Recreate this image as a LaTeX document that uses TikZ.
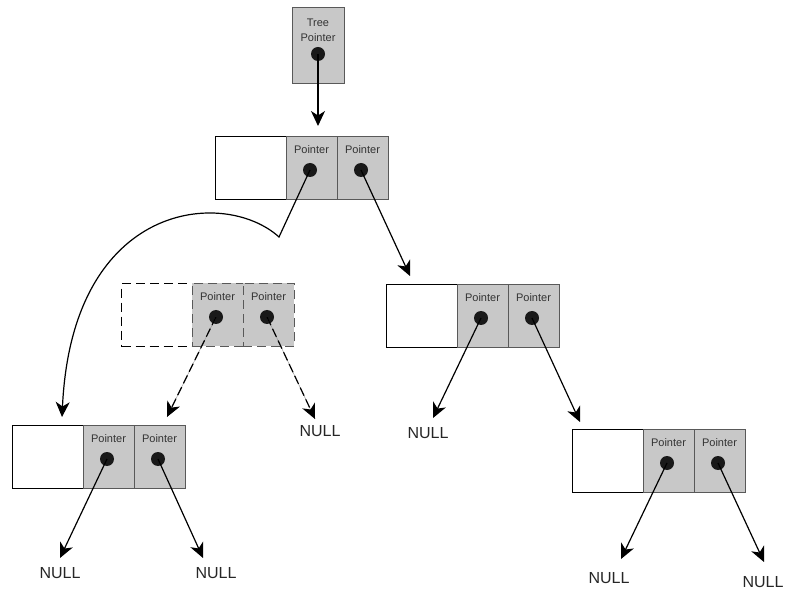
\documentclass[tikz,border=0pt]{standalone}
\usepackage{fontspec}
\setmainfont{Liberation Sans}
\usetikzlibrary{arrows.meta}
\definecolor{cellgray}{RGB}{200,200,200}
\tikzset{
  whitecell/.style={draw=black, line width=1.4pt, fill=white, minimum width=71pt, minimum height=63pt, anchor=north west, inner sep=0pt},
  ptrcell/.style={draw=black!65, line width=0.6pt, fill=cellgray, minimum width=51pt, minimum height=63pt, anchor=north west, inner sep=0pt},
  ptrlabel/.style={font=\fontsize{11}{13}\selectfont, text=black!80, inner sep=0pt},
  ptrdot/.style={circle, fill=black!90, minimum size=14pt, inner sep=0pt},
  link/.style={line width=1.2pt, -{Stealth[length=15pt,width=14pt,inset=4.5pt]}},
  dashlink/.style={link, dash pattern=on 9pt off 4pt},
  guideline/.style={draw=black!40, line width=0.5pt},
  nulltext/.style={font=\fontsize{16}{18}\selectfont, text=black!85, inner sep=0pt},
  dashedrec/.style={dash pattern=on 9pt off 5pt}
}
\newcommand\recnode[4]{%
  \node[whitecell,#4] (#1w) at (#2,#3) {};
  \node[ptrcell,#4] (#1a) at ({#2+71},#3) {};
  \node[ptrcell,#4] (#1b) at ({#2+122},#3) {};
  \node[ptrlabel] (#1la) at ({#2+96.5},{#3+14}) {Pointer};
  \node[ptrlabel] (#1lb) at ({#2+147.5},{#3+14}) {Pointer};
  \node[ptrdot] (#1da) at ({#2+95},{#3+34}) {};
  \node[ptrdot] (#1db) at ({#2+146},{#3+34}) {};
}
\begin{document}
\begin{tikzpicture}[x=1pt,y=-1pt]
\useasboundingbox (0,0) rectangle (787,593);

% tree pointer
\node[ptrcell, minimum width=52pt, minimum height=76pt] (tp) at (292,7) {};
\node[ptrlabel] (tpl1) at (318,23) {Tree};
\node[ptrlabel] (tpl2) at (318,38) {Pointer};
\node[ptrdot] (tpd) at (318,54) {};

% records
\recnode{root}{215}{136}{}
\recnode{dsh}{121}{283}{dashedrec}
\recnode{mr}{386}{284}{}
\recnode{bl}{12}{425}{}
\recnode{br}{572}{429}{}

% end points
\coordinate (tpend) at (318,126);
\coordinate (bend) at (279,237);
\coordinate (cend) at (62,417);
\coordinate (rbend) at (410,276);
\coordinate (mraend) at (433,418);
\coordinate (mrbend) at (580,422);
\coordinate (dsaend) at (167,417);
\coordinate (dsbend) at (315,419);
\coordinate (blaend) at (60,558);
\coordinate (blbend) at (203,558);
\coordinate (braend) at (621,559);
\coordinate (brbend) at (764,562);

% connectors
\draw[link] (tpd.center) -- (tpend);
\draw[link] (rootda.center) -- (bend) .. controls (225,188) and (72,200) .. (cend);
\draw[link] (rootdb.center) -- (rbend);
\draw[link] (mrda.center) -- (mraend);
\draw[link] (mrdb.center) -- (mrbend);
\draw[guideline] (dshda.center) -- (dsaend);
\draw[guideline] (dshdb.center) -- (dsbend);
\draw[dashlink] (dshda.center) -- (dsaend);
\draw[dashlink] (dshdb.center) -- (dsbend);
\draw[link] (blda.center) -- (blaend);
\draw[link] (bldb.center) -- (blbend);
\draw[link] (brda.center) -- (braend);
\draw[link] (brdb.center) -- (brbend);

% NULL labels
\node[nulltext] (n1) at (320,431) {NULL};
\node[nulltext] (n2) at (428,433) {NULL};
\node[nulltext] (n3) at (60,573) {NULL};
\node[nulltext] (n4) at (216,573) {NULL};
\node[nulltext] (n5) at (609,578) {NULL};
\node[nulltext] (n6) at (763,582) {NULL};
\end{tikzpicture}
\end{document}
